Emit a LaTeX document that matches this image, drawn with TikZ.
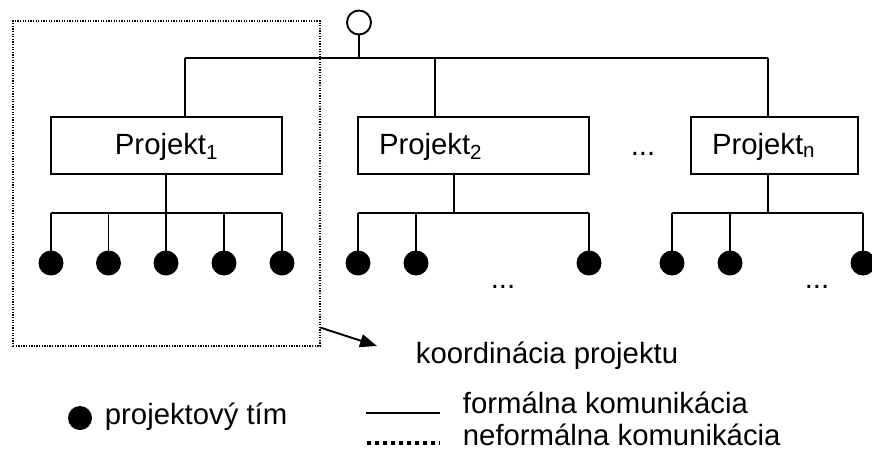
\documentclass[tikz,border=0pt]{standalone}
\usepackage{fontspec}
\setmainfont{Liberation Sans}
\usetikzlibrary{arrows.meta,calc}
\begin{document}
\begin{tikzpicture}[x=1pt,y=-1pt,line width=1.9pt,
  lbl/.style={font=\fontsize{29.3}{35}\selectfont,inner sep=0pt},
  proj/.style={draw,fill=white,minimum height=57pt,inner sep=0pt,
    font=\fontsize{29.3}{35}\selectfont,text height=21pt,text depth=4pt},
  team/.style={circle,fill=black,minimum size=25pt,inner sep=0pt},
  informal/.style={line width=1.3pt,dash pattern=on 1.3pt off 1.3pt}]
\useasboundingbox (0,0) rectangle (872,450);
\clip (0,0) rectangle (872,450);

% coordination area of the first project
\node[draw,informal,minimum width=307pt,minimum height=325pt,inner sep=0pt]
  (koord) at (166.5,183.5) {};

% top manager and the formal bus to the projects
\node[circle,draw,minimum size=24pt,inner sep=0pt,fill=white] (lead) at (359,22.5) {};
\coordinate (b1) at (185,58);
\coordinate (b2) at (435,58);
\coordinate (bn) at (768,58);
\draw (lead.south) -- (lead |- b1);
\draw (b1) -- (bn);

% projects
\node[proj,minimum width=231pt] (p1) at (166.5,145.5) {Projekt\textsubscript{1}};
\node[proj,minimum width=231pt,text width=189pt,align=left] (p2) at (473.5,145.5) {Projekt\textsubscript{2}};
\node[proj,minimum width=167pt,text width=125pt,align=left] (pn) at (774.5,145.5) {Projekt\textsubscript{n}};
\node[lbl,anchor=base] (dots) at (643,155) {...};

\draw (b1) -- (b1 |- p1.north);
\draw (b2) -- (b2 |- p2.north);
\draw (bn) -- (bn |- pn.north);

% project teams
\coordinate (s1) at (166,213);
\coordinate (s2) at (454,213);
\coordinate (sn) at (768,213);

\foreach \i/\x in {1/51,2/108.5,3/166,4/224,5/282}
  \node[team] (t1\i) at (\x,263) {};
\foreach \i/\x in {1/358,2/416,3/589}
  \node[team] (t2\i) at (\x,263) {};
\foreach \i/\x in {1/672,2/730,3/863}
  \node[team] (tn\i) at (\x,263) {};

\draw (p1.south -| s1) -- (s1);
\draw (t11 |- s1) -- (t15 |- s1);
\foreach \i in {1,...,5} \draw (t1\i |- s1) -- (t1\i.center);

\draw (p2.south -| s2) -- (s2);
\draw (t21 |- s2) -- (t23 |- s2);
\foreach \i in {1,2,3} \draw (t2\i |- s2) -- (t2\i.center);

\draw (pn.south -| sn) -- (sn);
\draw (tn1 |- sn) -- (tn3 |- sn);
\foreach \i in {1,2,3} \draw (tn\i |- sn) -- (tn\i.center);

\node[lbl,anchor=base] (dots2) at (503,288) {...};
\node[lbl,anchor=base] (dotsn) at (817,288) {...};

% coordination label
\node[lbl,anchor=base west] (ktext) at (415,363) {koordinácia projektu};
\coordinate (arrEnd) at (377,346);
\draw[line width=1.9pt,-{Triangle[length=17pt,width=13pt]}]
  ($(koord.south east)+(0,-19)$) -- (arrEnd);

% legend
\node[team,minimum size=24pt] (legdot) at (80,418) {};
\node[lbl,anchor=base west] (legteam) at (104,424) {projektový tím};

\coordinate (fa) at (366,413);
\coordinate (fb) at (440,413);
\draw (fa) -- (fb);
\node[lbl,anchor=base west] (legform) at (462,413) {formálna komunikácia};

\coordinate (na) at (367,443);
\coordinate (nb) at (440,443);
\draw[line width=3.5pt,dash pattern=on 3.5pt off 4.5pt] (na) -- (nb);
\node[lbl,anchor=base west] (leginf) at (462,445) {neformálna komunikácia};
\end{tikzpicture}
\end{document}
